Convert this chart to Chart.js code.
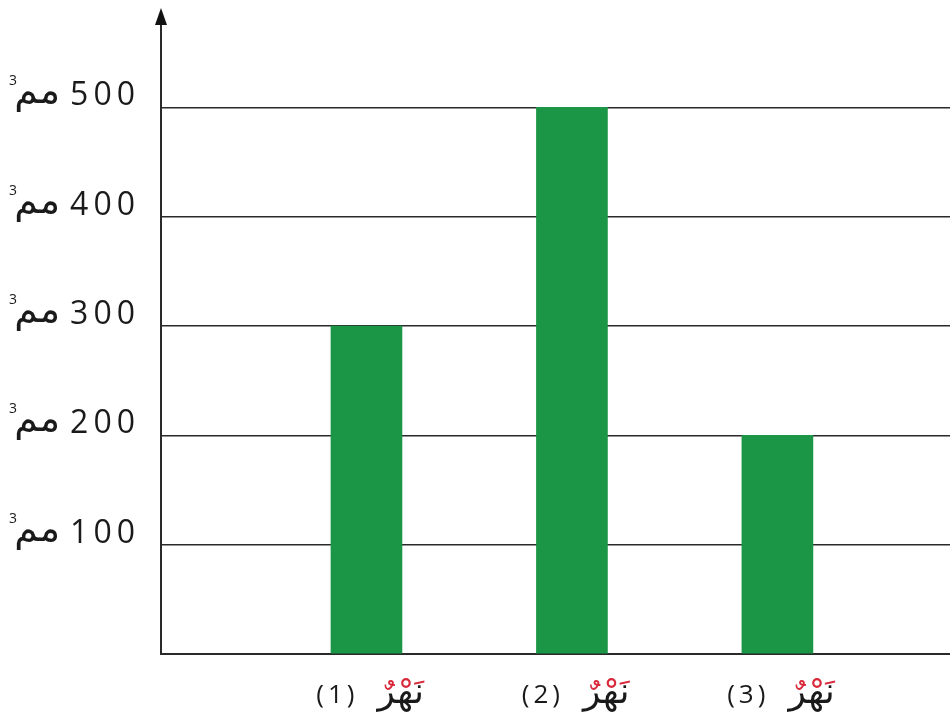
<!DOCTYPE html>
<html>
<head>
<meta charset="utf-8">
<script src="https://cdn.jsdelivr.net/npm/chart.js@4/dist/chart.umd.min.js"></script>
<style>
  html, body { margin: 0; padding: 0; background: #ffffff; }
  #wrap { width: 950px; height: 721px; position: relative; }
</style>
</head>
<body>
<div id="wrap"><canvas id="c"></canvas></div>
<script>
// River volumes (cubic millimetres)
const riverNumbers = ['1', '2', '3'];
const riverWord = 'نَهْرٌ';
const riverWordPlain = 'نهر';
const volumes = [300, 500, 200];
const yTicks = [100, 200, 300, 400, 500];
const unitText = 'مم';
const unitPower = '3';

const barGreen = '#1b9647';
const lineColor = '#2a2a2a';

const points = riverNumbers.map((n, i) => ({ x: i + 1, y: volumes[i] }));

// Draws the axis arrow, the y labels with their unit, and the river names
const labelsPlugin = {
  id: 'riverLabels',
  afterDraw(chart) {
    const ctx = chart.ctx;
    const xs = chart.scales.x;
    const ys = chart.scales.y;
    const area = chart.chartArea;
    ctx.save();

    // y axis with arrow head
    const ax = area.left;
    ctx.strokeStyle = lineColor;
    ctx.lineWidth = 2;
    ctx.beginPath();
    ctx.moveTo(ax, area.bottom);
    ctx.lineTo(ax, area.top - 4);
    ctx.stroke();
    ctx.fillStyle = '#111';
    ctx.beginPath();
    ctx.moveTo(ax, area.top - 12);
    ctx.lineTo(ax - 6, area.top + 5);
    ctx.lineTo(ax + 6, area.top + 5);
    ctx.closePath();
    ctx.fill();

    // y labels: number, unit, superscript power
    yTicks.forEach(v => {
      const y = ys.getPixelForValue(v);
      ctx.fillStyle = '#1a1a1a';
      ctx.textBaseline = 'alphabetic';
      ctx.textAlign = 'right';
      ctx.font = '400 32px "Open Sans"';
      ctx.letterSpacing = '5px';
      ctx.fillText(String(v), 140, y - 2);
      ctx.letterSpacing = '0px';
      ctx.font = '400 38px "DejaVu Sans"';
      ctx.fillText(unitText, 60, y - 4);
      ctx.font = '400 14px "Open Sans"';
      ctx.textAlign = 'left';
      ctx.fillText(unitPower, 9, y - 22);
    });

    // x labels: "(n)" followed by the word with red vowel marks
    riverNumbers.forEach((n, i) => {
      const cx = xs.getPixelForValue(i + 1);
      const base = 703;
      ctx.textBaseline = 'alphabetic';
      ctx.fillStyle = '#1a1a1a';
      ctx.font = '500 26px "Open Sans"';
      ctx.letterSpacing = '4px';
      ctx.textAlign = 'right';
      ctx.fillText('(' + n + ')', cx - 8, base);
      ctx.letterSpacing = '0px';
      ctx.font = '400 36px "DejaVu Sans"';
      ctx.textAlign = 'left';
      const wx = cx + 11;
      ctx.fillStyle = '#d8283a';
      ctx.fillText(riverWord, wx, base);
      // clear the letter bodies, then draw them in black
      ctx.strokeStyle = '#ffffff';
      ctx.lineWidth = 2.5;
      ctx.lineJoin = 'round';
      ctx.strokeText(riverWordPlain, wx, base);
      ctx.fillStyle = '#ffffff';
      ctx.fillText(riverWordPlain, wx, base);
      ctx.fillStyle = '#1a1a1a';
      ctx.fillText(riverWordPlain, wx, base);
    });

    ctx.restore();
  }
};

new Chart(document.getElementById('c'), {
  type: 'bar',
  data: {
    datasets: [{
      data: points,
      backgroundColor: barGreen,
      borderWidth: 0,
      barThickness: 71
    }]
  },
  options: {
    responsive: true,
    maintainAspectRatio: false,
    animation: false,
    events: [],
    layout: { padding: { left: 161, right: 0, top: 20, bottom: 67 } },
    plugins: { legend: { display: false }, tooltip: { enabled: false } },
    scales: {
      x: {
        type: 'linear',
        offset: false,
        min: 0,
        max: 3.84,
        ticks: { display: false },
        grid: { display: false, drawTicks: false },
        border: { display: true, color: lineColor, width: 2 }
      },
      y: {
        min: 0,
        max: 580,
        ticks: { display: false, stepSize: 100, includeBounds: false },
        grid: {
          color: ctx => (ctx.tick && ctx.tick.value > 0 && ctx.tick.value % 100 === 0) ? lineColor : 'rgba(0,0,0,0)',
          lineWidth: 1.6,
          drawTicks: false
        },
        border: { display: false }
      }
    }
  },
  plugins: [labelsPlugin]
});
</script>
</body>
</html>
